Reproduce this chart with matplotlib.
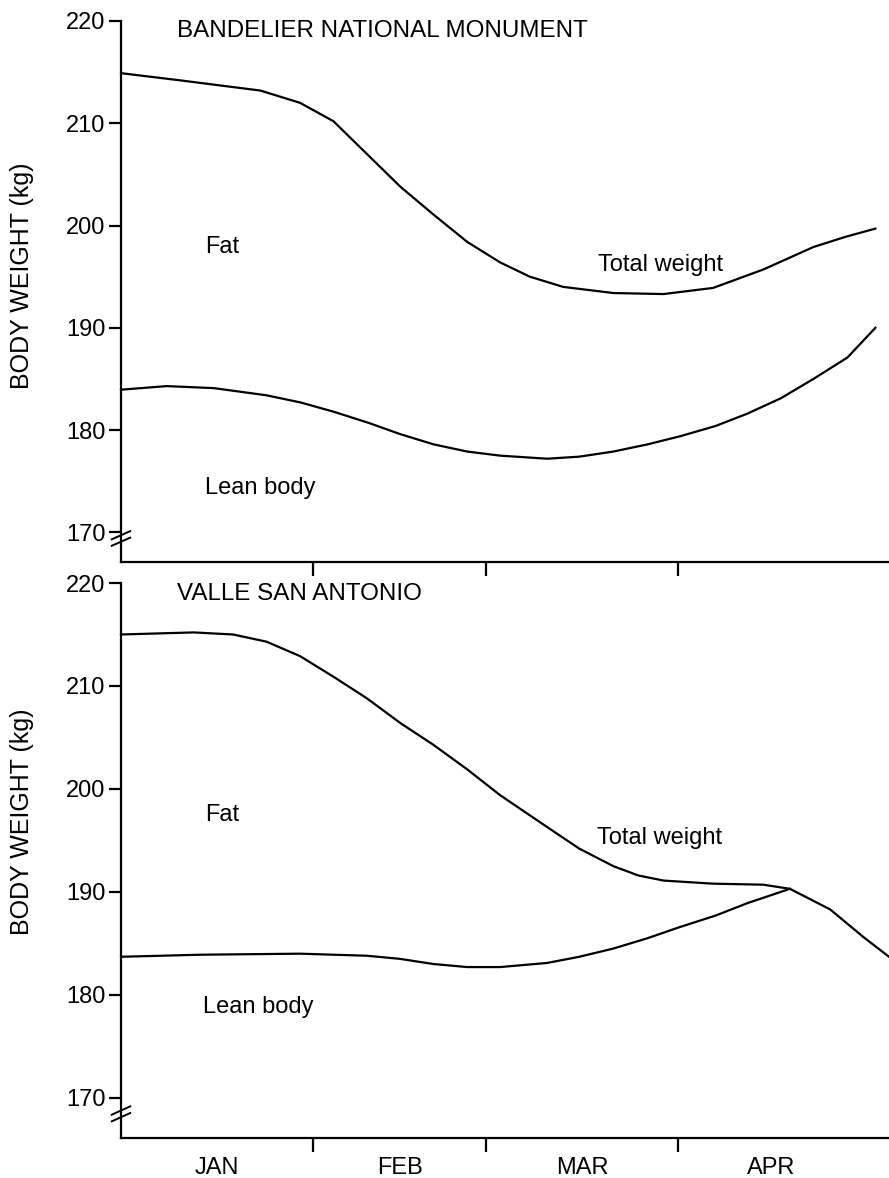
import matplotlib
matplotlib.use('Agg')
import matplotlib.pyplot as plt

plt.rcParams['font.family'] = ['Liberation Sans', 'DejaVu Sans']

# days since 1 Jan
month_edges = [31, 59, 90]
month_mid = [15.5, 45, 74.5, 105]
month_names = ['JAN', 'FEB', 'MAR', 'APR']
yticks = [170, 180, 190, 200, 210, 220]

# Bandelier National Monument
band_total_day = [0, 9.5, 22.5, 28.9, 34.3, 39.7, 45.1, 50.4, 55.9, 61.2, 66, 71.4, 79.5, 87.6, 95.6, 103.7, 111.8, 117, 121.8]
band_total_kg = [214.9, 214.2, 213.2, 212.0, 210.2, 207.0, 203.8, 201.1, 198.4, 196.4, 195.0, 194.0, 193.4, 193.3, 193.9, 195.7, 197.9, 198.9, 199.7]
band_lean_day = [0, 7.4, 15, 23.5, 29, 34.3, 40, 45.1, 50.5, 55.9, 61.2, 68.8, 74, 79.5, 85, 90.3, 96, 101.1, 106.5, 111.8, 117.3, 121.8]
band_lean_kg = [183.95, 184.3, 184.1, 183.4, 182.7, 181.8, 180.7, 179.6, 178.6, 177.9, 177.5, 177.2, 177.4, 177.9, 178.6, 179.4, 180.4, 181.6, 183.1, 185.0, 187.1, 190.0]

# Valle San Antonio
valle_total_day = [0, 11.7, 18.1, 23.5, 28.9, 34.3, 39.7, 45.1, 50.4, 55.9, 61.2, 68.8, 74, 79.5, 83.5, 87.6, 95.6, 103.7, 108, 114.5, 119.9, 124]
valle_total_kg = [215.0, 215.2, 215.0, 214.3, 212.9, 210.9, 208.8, 206.4, 204.3, 201.9, 199.4, 196.3, 194.2, 192.5, 191.6, 191.1, 190.8, 190.7, 190.3, 188.3, 185.6, 183.7]
valle_lean_day = [0, 12.8, 28.9, 39.7, 45, 50.4, 55.9, 61.2, 68.8, 74, 79.5, 85, 90.3, 96, 101.1, 108]
valle_lean_kg = [183.7, 183.9, 184.0, 183.8, 183.5, 183.0, 182.7, 182.7, 183.1, 183.7, 184.5, 185.5, 186.6, 187.7, 188.9, 190.3]

fig = plt.figure(figsize=(8.89, 11.78), dpi=100)
ax1 = fig.add_axes([121/889, 1 - 562/1178, 1 - 121/889, (562 - 21)/1178])
ax2 = fig.add_axes([121/889, 1 - 1138/1178, 1 - 121/889, (1138 - 583)/1178])


def style(ax, ymin, title, title_y, labels, label_y):
    ax.set_xlim(0, 124)
    ax.set_ylim(ymin, 220)
    ax.spines['top'].set_visible(False)
    ax.spines['right'].set_visible(False)
    for s in ['left', 'bottom']:
        ax.spines[s].set_linewidth(1.6)
    ax.set_yticks(yticks)
    ax.set_yticklabels([str(t) for t in yticks], fontsize=17)
    ax.set_xticks(month_edges)
    ax.set_xticklabels([])
    ax.tick_params(axis='both', direction='out', length=9, width=1.6, pad=2)
    ax.tick_params(axis='x', length=10)
    ax.set_ylabel('BODY WEIGHT (kg)', fontsize=18)
    ax.yaxis.set_label_coords(-0.113, label_y)
    # axis break marks
    for dy in (0, 0.012):
        ax.plot([-0.012, 0.012], [0.03 + dy, 0.045 + dy], transform=ax.transAxes,
                color='black', lw=1.4, clip_on=False)
    ax.text(9.0, title_y, title, fontsize=17.4, va='center', ha='left')
    for txt, x, y in labels:
        ax.text(x, y, txt, fontsize=17, ha='center', va='center')


style(ax1, 167.1, 'BANDELIER NATIONAL MONUMENT', 219.0,
      [('Fat', 16.3, 197.9), ('Total weight', 87.1, 196.1), ('Lean body', 22.5, 174.3)], 0.53)
style(ax2, 166.1, 'VALLE SAN ANTONIO', 218.9,
      [('Fat', 16.3, 197.5), ('Total weight', 87.0, 195.2), ('Lean body', 22.1, 178.8)], 0.57)

ax1.plot(band_total_day, band_total_kg, color='black', lw=1.6, clip_on=False)
ax1.plot(band_lean_day, band_lean_kg, color='black', lw=1.6, clip_on=False)
ax2.plot(valle_total_day, valle_total_kg, color='black', lw=1.6, clip_on=False)
ax2.plot(valle_lean_day, valle_lean_kg, color='black', lw=1.6, clip_on=False)

# month names under the lower panel
ax2.set_xticks(month_mid, minor=True)
ax2.set_xticklabels(month_names, minor=True, fontsize=17)
ax2.tick_params(axis='x', which='minor', length=0, pad=14)

fig.savefig('out.png', dpi=100)
